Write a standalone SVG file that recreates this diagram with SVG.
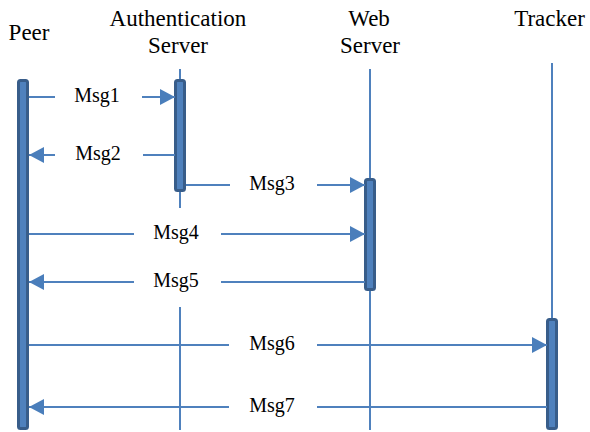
<svg xmlns="http://www.w3.org/2000/svg" width="590" height="432" viewBox="0 0 590 432">
<defs>
<marker id="ah" markerUnits="userSpaceOnUse" markerWidth="16" markerHeight="16" refX="15" refY="8" orient="auto">
<path d="M0,0 L15,8 L0,16 z" fill="#4A7EBB"/>
</marker>
</defs>
<rect width="590" height="432" fill="#fff"/>
<g id="peer">
<text x="8.6" y="40" font-family="Liberation Serif, serif" font-size="23">Peer</text>
<rect x="18.5" y="80.5" width="9" height="348" rx="2" fill="#4F81BD" stroke="#385D8A" stroke-width="3"/>
</g>
<g id="auth">
<text x="109.6" y="26" font-family="Liberation Serif, serif" font-size="23">Authentication</text>
<text x="148" y="53" font-family="Liberation Serif, serif" font-size="23">Server</text>
<g stroke="#4F81BD" stroke-width="2">
<line x1="180" y1="69" x2="180" y2="208"/>
<line x1="180" y1="307" x2="180" y2="430"/>
</g>
<rect x="175.5" y="80.5" width="9" height="110" rx="2" fill="#4F81BD" stroke="#385D8A" stroke-width="3"/>
</g>
<g id="web">
<text x="348.3" y="26" font-family="Liberation Serif, serif" font-size="23">Web</text>
<text x="340" y="53" font-family="Liberation Serif, serif" font-size="23">Server</text>
<line x1="370" y1="69" x2="370" y2="430" stroke="#4F81BD" stroke-width="2"/>
<rect x="365.5" y="179.5" width="9" height="110" rx="2" fill="#4F81BD" stroke="#385D8A" stroke-width="3"/>
</g>
<g id="tracker">
<text x="514.2" y="26" font-family="Liberation Serif, serif" font-size="23">Tracker</text>
<line x1="552" y1="63" x2="552" y2="320" stroke="#4F81BD" stroke-width="2"/>
<rect x="547.5" y="319.5" width="9" height="109" rx="2" fill="#4F81BD" stroke="#385D8A" stroke-width="3"/>
</g>
<g id="connectors" stroke="#4F81BD" stroke-width="2">
<line x1="29" y1="97" x2="55" y2="97"/>
<line x1="142" y1="97" x2="175" y2="97" marker-end="url(#ah)"/>
<line x1="55" y1="155" x2="29" y2="155" marker-end="url(#ah)"/>
<line x1="143" y1="155" x2="175" y2="155"/>
<line x1="186" y1="185" x2="230" y2="185"/>
<line x1="317" y1="185" x2="365" y2="185" marker-end="url(#ah)"/>
<line x1="29" y1="234" x2="134" y2="234"/>
<line x1="221" y1="234" x2="365" y2="234" marker-end="url(#ah)"/>
<line x1="134" y1="282" x2="29" y2="282" marker-end="url(#ah)"/>
<line x1="221" y1="282" x2="365" y2="282"/>
<line x1="29" y1="345" x2="229" y2="345"/>
<line x1="317" y1="345" x2="547" y2="345" marker-end="url(#ah)"/>
<line x1="229" y1="407" x2="29" y2="407" marker-end="url(#ah)"/>
<line x1="317" y1="407" x2="547" y2="407"/>
</g>
<g id="labels">
<text x="74.2" y="102" font-family="Liberation Serif, serif" font-size="20">Msg1</text>
<text x="75.2" y="160" font-family="Liberation Serif, serif" font-size="20">Msg2</text>
<text x="249.2" y="190" font-family="Liberation Serif, serif" font-size="20">Msg3</text>
<text x="153.2" y="239" font-family="Liberation Serif, serif" font-size="20">Msg4</text>
<text x="153.2" y="287" font-family="Liberation Serif, serif" font-size="20">Msg5</text>
<text x="249.2" y="350" font-family="Liberation Serif, serif" font-size="20">Msg6</text>
<text x="249.2" y="412" font-family="Liberation Serif, serif" font-size="20">Msg7</text>
</g>
</svg>
